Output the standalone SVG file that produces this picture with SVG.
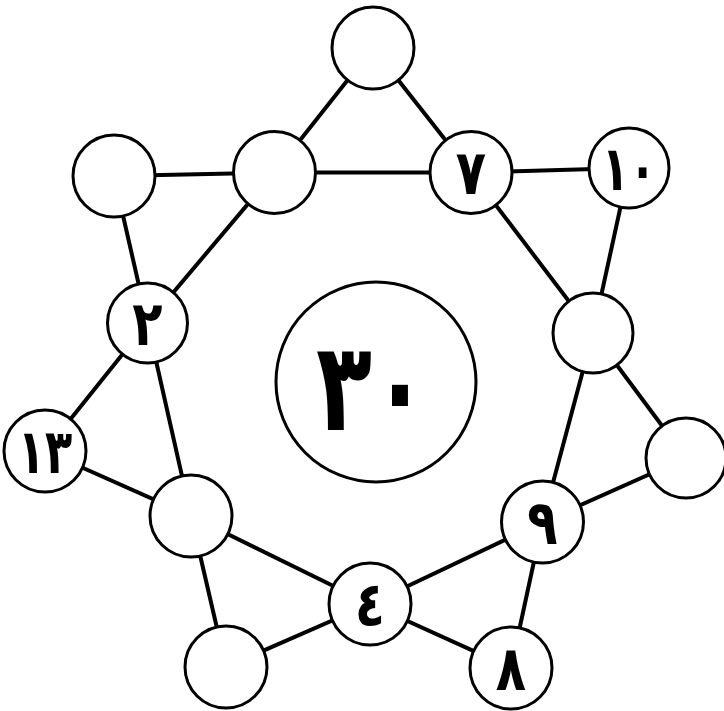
<svg xmlns="http://www.w3.org/2000/svg" width="724" height="711" viewBox="0 0 724 711">
<style>
.edge{stroke:#000;stroke-width:4;fill:none;stroke-linecap:round}
.node{fill:#fff;stroke:#000;stroke-width:3}
.lbl{font-family:"DejaVu Sans",sans-serif;font-weight:bold;font-size:62px;text-anchor:middle;fill:#000}
.big{font-size:124px}
</style>
<rect width="724" height="711" fill="#fff"/>
<g id="connectors">
<polyline class="edge" points="114,176 274.5,172.5 471,172.5 629,168"/>
<polyline class="edge" points="373,48 274.5,172.5 147.5,323 45,451"/>
<polyline class="edge" points="373,48 471,172.5 593,333 686,458"/>
<polyline class="edge" points="114,176 147.5,323 191,516 226,667"/>
<polyline class="edge" points="629,168 593,333 542.5,522 511,668"/>
<polyline class="edge" points="45,451 191,516 370,604 511,668"/>
<polyline class="edge" points="686,458 542.5,522 370,604 226,667"/>
</g>
<g id="center"><circle class="node" cx="376" cy="382" r="100"/><text class="lbl big" transform="translate(372,430) scale(0.74,1)">٣٠</text></g>
<g id="n-top"><circle class="node" cx="373" cy="48" r="41"/></g>
<g id="n-topleft"><circle class="node" cx="114" cy="176" r="41"/></g>
<g id="n-topright"><circle class="node" cx="629" cy="168" r="40"/><text class="lbl" transform="translate(629,190) scale(0.72,1)">١٠</text></g>
<g id="n-left"><circle class="node" cx="45" cy="451" r="41"/><text class="lbl" transform="translate(45,473) scale(0.72,1)">١٣</text></g>
<g id="n-right"><circle class="node" cx="686" cy="458" r="40"/></g>
<g id="n-bottomleft"><circle class="node" cx="226" cy="667" r="41"/></g>
<g id="n-bottomright"><circle class="node" cx="511" cy="668" r="41"/><text class="lbl" transform="translate(511,690) scale(0.8,1)">٨</text></g>
<g id="i-1"><circle class="node" cx="274.5" cy="172.5" r="41"/></g>
<g id="i-2"><circle class="node" cx="471" cy="172.5" r="41"/><text class="lbl" transform="translate(471,194) scale(0.8,1)">٧</text></g>
<g id="i-3"><circle class="node" cx="147.5" cy="323" r="40"/><text class="lbl" transform="translate(147.5,345) scale(0.8,1)">٢</text></g>
<g id="i-4"><circle class="node" cx="593" cy="333" r="40"/></g>
<g id="i-5"><circle class="node" cx="191" cy="516" r="41"/></g>
<g id="i-6"><circle class="node" cx="542.5" cy="522" r="41"/><text class="lbl" transform="translate(542.5,544) scale(0.8,1)">٩</text></g>
<g id="i-7"><circle class="node" cx="370" cy="604" r="41"/><text class="lbl" transform="translate(370,626) scale(0.8,1)">٤</text></g>
</svg>
